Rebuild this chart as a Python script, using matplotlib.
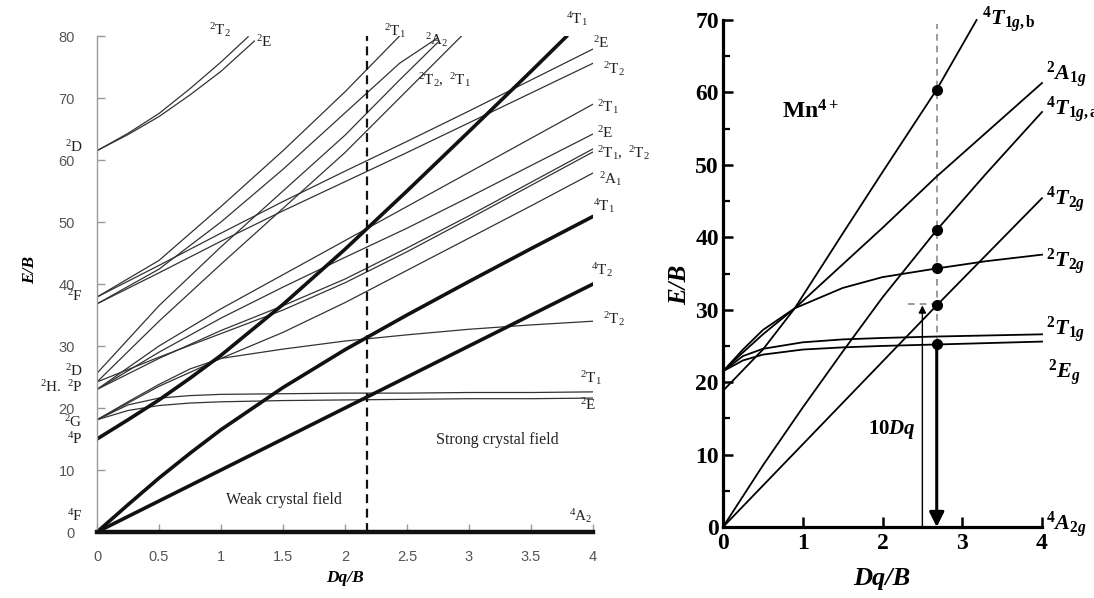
import matplotlib
matplotlib.use("Agg")
import matplotlib.pyplot as plt

plt.rcParams["mathtext.fontset"] = "custom"
plt.rcParams["mathtext.rm"] = "Liberation Serif"
plt.rcParams["mathtext.it"] = "Liberation Serif:italic:bold"
plt.rcParams["mathtext.bf"] = "Liberation Serif:bold"

SERIF = "Liberation Serif"

# ---------------- d3 Tanabe-Sugano diagram (left) ----------------
# quartets (thick)
DQ_Q = [0, 0.25, 0.5, 0.75, 1.0, 1.5, 2.0, 2.5, 3.0, 3.5, 4.0]
E_4T2 = [0, 2.5, 5.0, 7.5, 10.0, 15.0, 20.0, 25.0, 30.0, 35.0, 40.0]
E_4T1F = [0, 4.4, 8.7, 12.7, 16.5, 23.3, 29.4, 35.0, 40.4, 45.7, 50.9]
DQ_4T1P = [0, 0.25, 0.5, 0.75, 1.0, 1.5, 2.0, 2.5, 3.0, 3.5, 3.79]
E_4T1P = [15.0, 18.1, 21.3, 24.8, 28.5, 36.7, 45.6, 55.0, 64.6, 74.3, 80.0]

# doublets from the upper 2D term
DQ_D2_T2 = [0, 0.25, 0.5, 0.75, 1.0, 1.22]
E_D2_T2 = [61.5, 64.3, 67.5, 71.5, 75.8, 79.9]
DQ_D2_E = [0, 0.25, 0.5, 0.75, 1.0, 1.27]
E_D2_E = [61.5, 64.1, 67.0, 70.5, 74.3, 79.2]

# doublets from 2F
DQ_F_T1 = [0, 0.5, 1.0, 1.5, 2.0, 2.44]
E_F_T1 = [37.9, 43.8, 52.5, 61.5, 71.0, 80.0]
DQ_F_A2 = [0, 0.5, 1.0, 1.5, 2.0, 2.44, 2.74]
E_F_A2 = [36.8, 42.4, 50.0, 58.5, 67.6, 75.6, 79.6]

DQ_G = [0, 0.5, 1.0, 1.5, 2.0, 2.5, 3.0, 3.5, 4.0]
E_F_E = [37.9, 43.0, 48.2, 53.3, 58.2, 63.0, 67.9, 72.9, 77.9]
E_F_T2 = [36.8, 41.8, 46.9, 51.8, 56.5, 61.2, 66.0, 70.8, 75.6]

# doublets from 2D / 2H / 2P
DQ_S3 = [0, 0.5, 1.0, 1.5, 2.0, 2.44, 2.75]
E_S3 = [25.6, 36.5, 46.0, 55.0, 64.0, 72.9, 79.0]
DQ_S4 = [0, 0.5, 1.0, 1.5, 2.0, 2.44, 2.94]
E_S4 = [24.2, 34.0, 43.2, 52.2, 61.2, 70.0, 80.0]
E_H_T1 = [23.0, 30.0, 36.0, 41.5, 47.0, 52.5, 58.0, 63.5, 69.0]
E_H_E = [23.0, 29.0, 34.5, 39.5, 44.3, 49.0, 54.0, 59.1, 64.2]
E_H_T1b = [23.0, 28.0, 32.5, 36.5, 40.8, 45.8, 51.0, 56.4, 61.8]
E_H_T2 = [24.2, 28.2, 32.0, 35.8, 40.2, 45.2, 50.5, 55.9, 61.3]

# doublets from 2G
E_G_A1 = [18.1, 23.5, 28.0, 32.2, 37.0, 42.2, 47.4, 52.6, 57.9]
E_G_T2 = [18.1, 21.0, 23.8, 26.3, 28.0, 29.5, 30.8, 31.8, 32.7, 33.4, 34.0]
E_G_T1 = [18.1, 20.5, 21.6, 22.0, 22.2, 22.3, 22.4, 22.4, 22.5, 22.5, 22.6]
E_G_E = [18.1, 19.6, 20.4, 20.8, 21.0, 21.2, 21.3, 21.4, 21.5, 21.5, 21.6]

DQ_CROSS = 2.18

# ---------------- Mn4+ diagram (right) ----------------
DQ_R_4T1B = [0, 0.5, 0.9, 1.5, 2.0, 2.68, 3.18]
E_R_4T1B = [18.8, 24.5, 30.2, 40.5, 49.0, 60.4, 70.0]
DQ_R_2A1 = [0, 0.2, 0.5, 0.9, 2.0, 2.68, 4.0]
E_R_2A1 = [21.5, 23.6, 26.6, 30.2, 41.3, 48.4, 61.3]
DQ_R_4T1A = [0, 0.5, 1.0, 1.5, 2.0, 2.68, 3.3, 4.0]
E_R_4T1A = [0, 8.5, 16.5, 24.2, 31.7, 41.0, 48.8, 57.3]
DQ_R_4T2 = [0, 2.68, 4.0]
E_R_4T2 = [0, 30.6, 45.4]
DQ_R_2T2 = [0, 0.25, 0.5, 0.9, 1.5, 2.0, 2.68, 3.3, 4.0]
E_R_2T2 = [21.5, 24.5, 27.2, 30.2, 33.0, 34.5, 35.7, 36.7, 37.6]
DQ_R_FLAT = [0, 0.25, 0.5, 1.0, 1.5, 2.0, 2.68, 4.0]
E_R_2T1 = [21.5, 23.6, 24.6, 25.5, 25.9, 26.1, 26.3, 26.6]
E_R_2E = [21.5, 23.0, 23.8, 24.5, 24.8, 25.0, 25.2, 25.6]

DQ_MARK = 2.68
E_MARKS = [60.4, 41.0, 35.7, 30.6, 25.2]
DQ_10DQ = 2.5


def tex(s):
    return "$" + s + "$"


def draw_left(fig):
    ax = fig.add_axes([97 / 1094, 66 / 598, 496 / 1094, 496 / 598])
    ax.set_xlim(0, 4)
    ax.set_ylim(0, 80)

    thin = dict(color="#333333", lw=0.9, solid_capstyle="round")
    thick = dict(color="#111111", lw=2.6, solid_capstyle="round")

    for x, y in [(DQ_D2_T2, E_D2_T2), (DQ_D2_E, E_D2_E),
                 (DQ_F_T1, E_F_T1), (DQ_F_A2, E_F_A2),
                 (DQ_G, E_F_E), (DQ_G, E_F_T2),
                 (DQ_S3, E_S3), (DQ_S4, E_S4),
                 (DQ_G, E_H_T1), (DQ_G, E_H_E), (DQ_G, E_H_T1b), (DQ_G, E_H_T2),
                 (DQ_G, E_G_A1), (DQ_Q, E_G_T2), (DQ_Q, E_G_T1), (DQ_Q, E_G_E)]:
        ax.plot(x, y, **thin)

    ax.plot(DQ_Q, E_4T2, **thick)
    ax.plot(DQ_Q, E_4T1F, **thick)
    ax.plot(DQ_4T1P, E_4T1P, **thick)
    ax.plot([0, 4], [0, 0], color="#111111", lw=3.2, clip_on=False, zorder=5)

    ax.plot([DQ_CROSS, DQ_CROSS], [0, 80], color="#111111", lw=1.6,
            ls=(0, (4, 2.5)), clip_on=False)

    for s in ("top", "right", "bottom"):
        ax.spines[s].set_visible(False)
    ax.spines["left"].set_color("#9a9a9a")
    ax.spines["left"].set_linewidth(1.0)
    ax.set_xticks([0, 0.5, 1, 1.5, 2, 2.5, 3, 3.5, 4])
    ax.set_xticklabels(["0", "0.5", "1", "1.5", "2", "2.5", "3", "3.5", "4"])
    ax.set_yticks(range(0, 81, 10))
    ax.tick_params(axis="y", direction="in", length=6, width=1, color="#9a9a9a",
                   pad=16, labelsize=10.5, labelcolor="#555555")
    ax.tick_params(axis="x", direction="in", length=6, width=1, color="#9a9a9a",
                   pad=13, labelsize=10.5, labelcolor="#555555")
    for lab in ax.get_xticklabels() + ax.get_yticklabels():
        lab.set_family("Liberation Sans")

    lab_kw = dict(fontsize=11, color="#222222", clip_on=False, va="center")
    right_labels = [
        (r"^{2}\mathrm{E}", 4.0, 78.9),
        (r"^{2}\mathrm{T}_{2}", 4.08, 74.6),
        (r"^{2}\mathrm{T}_{1}", 4.03, 68.6),
        (r"^{2}\mathrm{E}", 4.03, 64.4),
        (r"^{2}\mathrm{T}_{1},\ {}^{2}\mathrm{T}_{2}", 4.03, 61.1),
        (r"^{2}\mathrm{A}_{1}", 4.05, 57.0),
        (r"^{4}\mathrm{T}_{1}", 4.0, 52.5),
        (r"^{4}\mathrm{T}_{2}", 3.98, 42.3),
        (r"^{2}\mathrm{T}_{2}", 4.08, 34.4),
    ]
    for s, x, y in right_labels:
        ax.text(x, y, tex(s), ha="left", **lab_kw)

    centre_labels = [
        (r"^{4}\mathrm{T}_{1}", 3.87, 82.8),
        (r"^{2}\mathrm{T}_{2}", 0.99, 80.9),
        (r"^{2}\mathrm{E}", 1.35, 79.0),
        (r"^{2}\mathrm{T}_{1}", 2.4, 80.8),
        (r"^{2}\mathrm{A}_{2}", 2.74, 79.4),
        (r"^{2}\mathrm{T}_{2},\ {}^{2}\mathrm{T}_{1}", 2.8, 72.9),
        (r"^{2}\mathrm{T}_{1}", 3.98, 24.9),
        (r"^{2}\mathrm{E}", 3.96, 20.4),
        (r"^{4}\mathrm{A}_{2}", 3.9, 2.6),
    ]
    for s, x, y in centre_labels:
        ax.text(x, y, tex(s), ha="center", **lab_kw)

    free_ion = [
        (r"^{2}\mathrm{D}", 62.1), (r"^{2}\mathrm{F}", 38.0),
        (r"^{2}\mathrm{D}", 26.0), (r"^{2}\mathrm{H.}\ {}^{2}\mathrm{P}", 23.3),
        (r"^{2}\mathrm{G}", 17.8), (r"^{4}\mathrm{P}", 15.0),
        (r"^{4}\mathrm{F}", 2.5),
    ]
    for s, y in free_ion:
        ax.text(-0.115, y, tex(s), ha="right", **lab_kw)

    ax.text(1.51, 5.2, "Weak crystal field", family=SERIF, fontsize=11.5,
            ha="center", va="center", color="#222222")
    ax.text(3.23, 14.8, "Strong crystal field", family=SERIF, fontsize=11.5,
            ha="center", va="center", color="#222222")

    fig.text(30 / 1094, 1 - 270 / 598, "E/B", rotation=90, family=SERIF,
             style="italic", weight="bold", fontsize=12.5, ha="center", va="center")
    fig.text(345 / 1094, 1 - 578 / 598, "Dq/B", family=SERIF, style="italic",
             weight="bold", fontsize=12.5, ha="center", va="center")


def draw_right(fig):
    ax = fig.add_axes([723 / 1094, 71 / 598, 319 / 1094, 507 / 598])
    ax.set_xlim(0, 4)
    ax.set_ylim(0, 70)

    line = dict(color="black", lw=1.3)
    for x, y in [(DQ_R_4T1B, E_R_4T1B), (DQ_R_2A1, E_R_2A1),
                 (DQ_R_4T1A, E_R_4T1A), (DQ_R_4T2, E_R_4T2),
                 (DQ_R_2T2, E_R_2T2), (DQ_R_FLAT, E_R_2T1),
                 (DQ_R_FLAT, E_R_2E)]:
        ax.plot(x, y, clip_on=False, **line)

    ax.plot([DQ_MARK, DQ_MARK], [E_MARKS[-1], 69.5], color="#8a8a8a", lw=1.2,
            ls=(0, (4, 3)), zorder=1)
    ax.plot([DQ_MARK] * len(E_MARKS), E_MARKS, "o", color="black", ms=7,
            zorder=4)

    ax.annotate("", xy=(DQ_MARK, 0), xytext=(DQ_MARK, E_MARKS[-1]),
                arrowprops=dict(arrowstyle="-|>", lw=2.2, color="black",
                                mutation_scale=22, shrinkA=0, shrinkB=0))
    ax.annotate("", xy=(DQ_10DQ, E_MARKS[3]), xytext=(DQ_10DQ, 0),
                arrowprops=dict(arrowstyle="-|>", lw=1.0, color="black",
                                mutation_scale=11, shrinkA=0, shrinkB=0))
    ax.plot([2.32, DQ_MARK], [E_MARKS[3] + 0.2] * 2, color="#8a8a8a", lw=1.2,
            ls=(0, (4, 3)))

    ax.text(2.42, 13.4, tex(r"\mathbf{10}Dq"), fontsize=15, ha="right",
            va="center")
    ax.text(0.74, 57.3, tex(r"\mathbf{Mn}^{\mathbf{4+}}"), fontsize=17,
            ha="left", va="center")

    labels = [
        (r"^{\mathbf{4}}T_{\mathbf{1}g\mathbf{,b}}", 3.25, 70.0),
        (r"^{\mathbf{2}}A_{\mathbf{1}g}", 4.05, 62.5),
        (r"^{\mathbf{4}}T_{\mathbf{1}g\mathbf{,a}}", 4.05, 57.6),
        (r"^{\mathbf{4}}T_{\mathbf{2}g}", 4.05, 45.2),
        (r"^{\mathbf{2}}T_{\mathbf{2}g}", 4.05, 36.6),
        (r"^{\mathbf{2}}T_{\mathbf{1}g}", 4.05, 27.3),
        (r"^{\mathbf{2}}E_{g}", 4.07, 21.3),
        (r"^{\mathbf{4}}A_{\mathbf{2}g}", 4.05, 0.3),
    ]
    for s, x, y in labels:
        ax.text(x, y, tex(s), fontsize=16, ha="left", va="center",
                clip_on=False)

    for s in ("top", "right"):
        ax.spines[s].set_visible(False)
    for s in ("left", "bottom"):
        ax.spines[s].set_linewidth(2.3)
    ax.set_xticks([0, 1, 2, 3, 4])
    ax.set_yticks(range(0, 71, 10))
    ax.set_yticks(range(5, 70, 10), minor=True)
    ax.tick_params(axis="both", which="major", direction="in", length=7,
                   width=1.8, labelsize=17)
    ax.tick_params(axis="y", which="minor", direction="in", length=5, width=1.6)
    ax.tick_params(axis="y", which="major", pad=3)
    ax.tick_params(axis="x", which="major", pad=4)
    for lab in ax.get_xticklabels() + ax.get_yticklabels():
        lab.set_family(SERIF)
        lab.set_fontweight("bold")

    fig.text(680 / 1094, 1 - 285 / 598, "E/B", rotation=90, family=SERIF,
             style="italic", weight="bold", fontsize=18, ha="center", va="center")
    fig.text(882 / 1094, 1 - 578 / 598, "Dq/B", family=SERIF, style="italic",
             weight="bold", fontsize=19, ha="center", va="center")


def main():
    fig = plt.figure(figsize=(10.94, 5.98), dpi=100)
    fig.patch.set_facecolor("white")
    draw_left(fig)
    draw_right(fig)
    fig.savefig("out.png", dpi=100, facecolor="white")
    plt.close(fig)


if __name__ == "__main__":
    main()
